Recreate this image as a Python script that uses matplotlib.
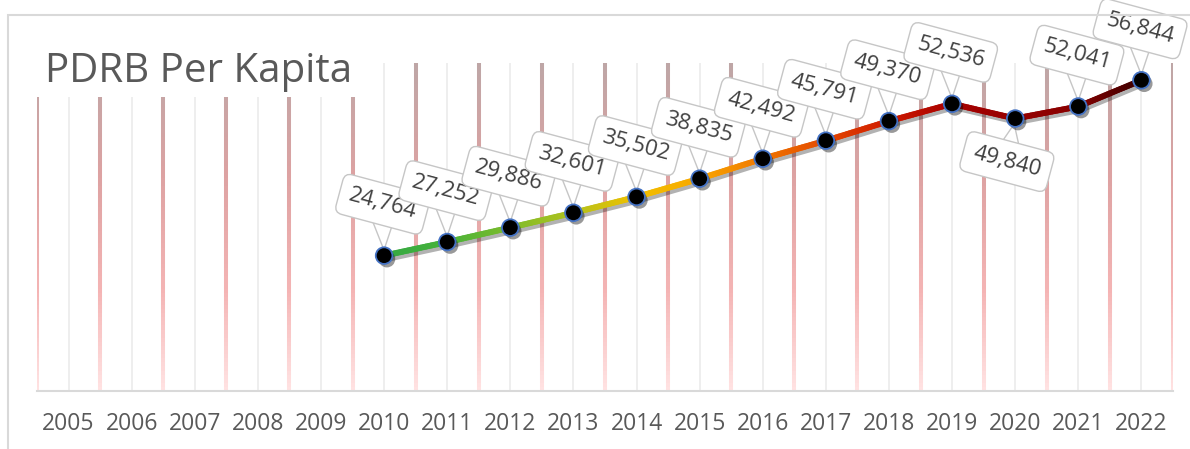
import numpy as np
import matplotlib
matplotlib.use("Agg")
import matplotlib.pyplot as plt
import matplotlib.patheffects as pe
from matplotlib.collections import LineCollection
from matplotlib.colors import LinearSegmentedColormap, to_rgb
from matplotlib.patches import Rectangle

plt.rcParams['font.family'] = ['Open Sans', 'DejaVu Sans']

# Data
years = ["2005", "2006", "2007", "2008", "2009", "2010", "2011", "2012", "2013",
         "2014", "2015", "2016", "2017", "2018", "2019", "2020", "2021", "2022"]
pdrb = [np.nan, np.nan, np.nan, np.nan, np.nan,
        24764, 27252, 29886, 32601, 35502, 38835, 42492,
        45791, 49370, 52536, 49840, 52041, 56844]

# line colour at each data point (green -> yellow -> red -> dark)
point_colors = ["#34a844", "#46b23a", "#7cbb2c", "#b0c21e", "#f0c000", "#f9a800",
                "#f07800", "#e44a00", "#d01c00", "#a80000", "#960000", "#880000",
                "#3c0000"]

W, H = 1190, 449
fig = plt.figure(figsize=(W / 100, H / 100), dpi=100)
ax = fig.add_axes([37 / W, 1 - 391 / H, (1173 - 37) / W, (391 - 63) / H])
ax.set_xlim(-0.5, 17.5)
ax.set_ylim(0, 60000)

# vertical gridlines: thick gradient at category edges, thin grey at centres
grid_cmap = LinearSegmentedColormap.from_list(
    "grid", [(0, "#ffe2e2"), (0.3, "#f4b4b4"), (0.65, "#dda2a2"), (1, "#bda6a6")])
n = 80
ys = np.linspace(0, 60000, n + 1)
segs, cols = [], []
for b in np.arange(-0.5, 18, 1):
    for i in range(n):
        segs.append([(b, ys[i]), (b, ys[i + 1])])
        cols.append(grid_cmap(i / n))
ax.add_collection(LineCollection(segs, colors=cols, linewidths=2.9, zorder=1))
for c in range(len(years)):
    ax.axvline(c, color="#eeeeee", lw=1.4, zorder=0.5)

# series line with gradient colour
xs = [i for i, v in enumerate(pdrb) if not np.isnan(v)]
vs = [pdrb[i] for i in xs]
ax.plot(xs, vs, lw=4.3, color="k", solid_capstyle="round", zorder=2,
        path_effects=[pe.SimpleLineShadow(offset=(1.5, -2.5), shadow_color="black", alpha=0.3)])
line_segs, line_cols = [], []
sub = 24
for k in range(len(xs) - 1):
    c0, c1 = np.array(to_rgb(point_colors[k])), np.array(to_rgb(point_colors[k + 1]))
    for j in range(sub):
        t0, t1 = j / sub, (j + 1) / sub
        p0 = (xs[k] + (xs[k + 1] - xs[k]) * t0, vs[k] + (vs[k + 1] - vs[k]) * t0)
        p1 = (xs[k] + (xs[k + 1] - xs[k]) * t1, vs[k] + (vs[k + 1] - vs[k]) * t1)
        line_segs.append([p0, p1])
        line_cols.append(c0 + (c1 - c0) * (t0 + t1) / 2)
ax.add_collection(LineCollection(line_segs, colors=line_cols, linewidths=4.3,
                                 capstyle="round", zorder=3))

# markers
ax.plot(xs, vs, "o", ms=12, mfc="black", mec="#4472c4", mew=1.3, zorder=5,
        path_effects=[pe.SimplePatchShadow(offset=(2, -2.5), alpha=0.4), pe.Normal()])

# data labels (callouts): the tail starts under the box centre
for x, v in zip(xs, vs):
    off = (-6, -31) if years[x] == "2020" else (-1, 37)
    ax.annotate(f"{v:,.0f}", xy=(x, v), xytext=off, textcoords="offset points",
                ha="center", va="center", rotation=-15, rotation_mode="anchor",
                fontsize=16, color="#404040",
                bbox=dict(boxstyle="round,pad=0.45,rounding_size=0.35", fc="white",
                          ec="#c6c6c6", lw=1),
                arrowprops=dict(arrowstyle="wedge,tail_width=1.5,shrink_factor=0.5",
                                fc="white", ec="#c6c6c6", lw=1, patchA=None,
                                shrinkA=0, shrinkB=4),
                zorder=4, annotation_clip=False)

ax.set_xticks(range(len(years)))
ax.set_xticklabels(years, fontsize=16.5, color="#595959")
ax.tick_params(axis="x", length=0, pad=15)
ax.set_yticks([])
for s in ["top", "left", "right"]:
    ax.spines[s].set_visible(False)
ax.spines["bottom"].set_color("#d9d9d9")
ax.spines["bottom"].set_linewidth(1.5)
ax.spines["bottom"].set_zorder(2)

# title with white background, chart frame
fig.patches.append(Rectangle((28 / W, 1 - 97 / H), (366 - 28) / W, (97 - 20) / H,
                             transform=fig.transFigure, fc="white", ec="none", zorder=2))
fig.patches.append(Rectangle((8 / W, -0.2), 1.5, 1.2 - 15 / H, transform=fig.transFigure,
                             fill=False, ec="#d9d9d9", lw=1.5, zorder=2))
fig.text(45 / W, 1 - 82 / H, "PDRB Per Kapita", fontsize=29, color="#595959",
         ha="left", va="baseline", zorder=3)

fig.savefig("out.png", dpi=100)
